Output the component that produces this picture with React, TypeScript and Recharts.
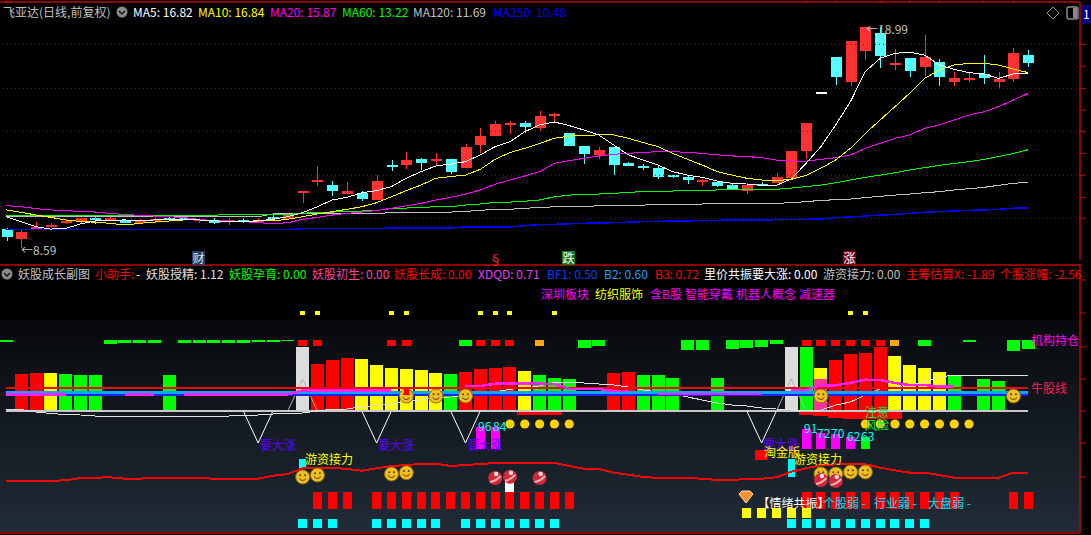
import { Bar, ComposedChart, Line, ReferenceLine, XAxis, YAxis } from 'recharts'

// upper panel: daily candles and moving averages
const open = [9.47, 9.01, 9.48, 9.58, 9.77, 9.86, 10.0, 9.91, 9.89, 9.77, 9.87, 9.99, 10.02, 9.91, 9.86, 9.86, 9.91, 9.81, 10.06, 9.97, 11.19, 11.69, 11.55, 11.15, 11.18, 10.86, 12.49, 12.49, 12.78, 12.68, 12.78, 12.37, 13.45, 13.88, 14.39, 14.47, 14.25, 14.82, 13.98, 13.39, 12.95, 13.34, 12.59, 12.45, 12.35, 12.02, 11.93, 11.77, 11.71, 11.55, 11.29, 11.6, 11.66, 11.9, 13.17, 15.91, 17.58, 16.42, 17.88, 18.71, 17.26, 17.53, 17.11, 17.34, 16.42, 16.56, 16.78, 16.42, 16.56, 17.67]
const close = [9.12, 9.34, 9.58, 9.67, 9.84, 9.99, 9.95, 9.99, 9.78, 9.87, 9.94, 9.92, 9.99, 9.94, 9.78, 9.91, 9.87, 9.91, 10.02, 10.22, 11.26, 11.79, 11.29, 11.27, 10.89, 11.74, 12.43, 12.73, 12.61, 12.76, 12.18, 13.34, 13.86, 14.42, 14.47, 14.3, 14.8, 14.89, 13.41, 13.03, 13.2, 12.51, 12.46, 12.37, 11.95, 11.95, 11.8, 11.8, 11.52, 11.32, 11.55, 11.54, 11.93, 13.15, 14.47, 15.91, 16.65, 18.33, 18.99, 17.64, 17.3, 16.93, 17.58, 16.65, 16.59, 16.59, 16.61, 16.54, 17.77, 17.3]
const high = [9.53, 9.44, 9.81, 9.77, 9.95, 10.02, 10.05, 10.11, 9.95, 9.94, 10.06, 10.06, 10.09, 9.99, 9.99, 9.99, 9.99, 9.99, 10.14, 10.25, 11.26, 12.45, 11.73, 11.69, 11.26, 12.01, 12.73, 13.11, 12.82, 13.04, 12.78, 13.48, 14.24, 14.55, 14.55, 14.55, 15.02, 14.94, 13.98, 13.39, 13.34, 13.34, 12.64, 12.54, 12.49, 12.02, 11.98, 11.82, 11.71, 11.6, 11.65, 11.71, 12.1, 13.15, 14.47, 15.92, 17.58, 18.33, 18.99, 18.99, 17.94, 17.53, 18.61, 17.47, 16.86, 16.81, 17.67, 16.87, 18.0, 17.91]
const low = [8.93, 8.59, 9.47, 9.55, 9.72, 9.78, 9.73, 9.87, 9.75, 9.72, 9.78, 9.87, 9.91, 9.78, 9.72, 9.67, 9.78, 9.78, 9.87, 9.91, 10.72, 11.52, 11.05, 11.11, 10.82, 10.85, 12.23, 12.31, 12.26, 12.46, 12.07, 12.35, 13.08, 13.86, 13.97, 13.98, 14.09, 14.52, 13.39, 12.56, 12.79, 12.02, 12.43, 12.26, 11.84, 11.9, 11.62, 11.52, 11.48, 11.32, 11.15, 11.54, 11.63, 11.79, 12.78, 15.9, 16.28, 16.21, 17.44, 17.06, 16.97, 16.64, 16.68, 16.23, 16.21, 16.4, 16.31, 16.09, 16.42, 17.12]

const ma5 = [10.06, 9.83, 9.59, 9.48, 9.51, 9.72, 9.86, 9.89, 9.91, 9.87, 9.91, 9.94, 9.92, 9.91, 9.87, 9.84, 9.84, 9.87, 9.94, 10.06, 10.25, 10.53, 10.85, 10.97, 11.19, 11.29, 11.48, 11.87, 12.18, 12.45, 12.54, 12.65, 12.97, 13.36, 13.59, 14.06, 14.38, 14.52, 14.35, 14.14, 13.91, 13.44, 12.97, 12.73, 12.49, 12.18, 12.02, 11.91, 11.74, 11.63, 11.6, 11.54, 11.54, 11.84, 12.57, 13.36, 14.38, 15.48, 16.89, 17.51, 17.75, 17.8, 17.67, 17.2, 17.0, 16.84, 16.78, 16.57, 16.78, 16.82]
const ma10 = [10.38, 10.27, 10.14, 10.03, 9.91, 9.84, 9.8, 9.75, 9.67, 9.75, 9.81, 9.86, 9.91, 9.91, 9.87, 9.84, 9.84, 9.86, 9.87, 9.94, 10.06, 10.19, 10.3, 10.41, 10.53, 10.72, 11.0, 11.29, 11.55, 11.87, 11.95, 12.02, 12.29, 12.76, 13.08, 13.28, 13.51, 13.75, 13.86, 13.86, 13.92, 13.91, 13.75, 13.55, 13.36, 13.04, 12.76, 12.49, 12.18, 12.02, 11.87, 11.79, 11.76, 11.82, 12.0, 12.34, 12.73, 13.28, 13.98, 14.61, 15.24, 15.87, 16.57, 16.97, 17.2, 17.28, 17.28, 17.2, 17.01, 16.84]
const ma20 = [10.58, 10.53, 10.44, 10.38, 10.35, 10.31, 10.28, 10.22, 10.16, 10.13, 10.09, 10.06, 10.02, 9.94, 9.87, 9.86, 9.83, 9.78, 9.73, 9.78, 9.94, 10.03, 10.14, 10.22, 10.28, 10.35, 10.46, 10.57, 10.69, 10.85, 10.97, 11.13, 11.32, 11.59, 11.79, 11.98, 12.18, 12.57, 12.7, 12.81, 12.92, 13.0, 13.04, 13.09, 13.12, 13.12, 13.09, 13.04, 12.97, 12.92, 12.89, 12.84, 12.73, 12.67, 12.68, 12.76, 12.84, 12.97, 13.28, 13.51, 13.75, 13.91, 14.22, 14.38, 14.61, 14.85, 15.0, 15.24, 15.55, 15.87]
const ma60 = [10.13, 10.13, 10.13, 10.13, 10.13, 10.13, 10.13, 10.13, 10.13, 10.13, 10.13, 10.13, 10.13, 10.13, 10.13, 10.17, 10.17, 10.17, 10.17, 10.17, 10.22, 10.27, 10.28, 10.31, 10.33, 10.36, 10.44, 10.47, 10.5, 10.53, 10.53, 10.61, 10.66, 10.74, 10.75, 10.79, 10.85, 11.0, 11.08, 11.11, 11.13, 11.16, 11.21, 11.24, 11.27, 11.27, 11.29, 11.3, 11.32, 11.32, 11.33, 11.35, 11.35, 11.41, 11.48, 11.55, 11.66, 11.79, 11.91, 12.02, 12.13, 12.26, 12.37, 12.48, 12.57, 12.65, 12.76, 12.89, 13.04, 13.22]
const ma120 = [10.05, 10.05, 10.05, 10.05, 10.05, 10.05, 10.06, 10.06, 10.06, 10.06, 10.06, 10.06, 10.06, 10.06, 10.06, 10.06, 10.06, 10.06, 10.19, 10.19, 10.19, 10.19, 10.19, 10.19, 10.19, 10.19, 10.27, 10.27, 10.28, 10.28, 10.28, 10.31, 10.36, 10.41, 10.41, 10.46, 10.49, 10.53, 10.53, 10.53, 10.58, 10.58, 10.6, 10.61, 10.63, 10.64, 10.64, 10.66, 10.67, 10.67, 10.69, 10.69, 10.69, 10.72, 10.77, 10.83, 10.86, 10.89, 10.96, 11.02, 11.08, 11.13, 11.19, 11.24, 11.32, 11.38, 11.44, 11.54, 11.63, 11.69]
const ma250 = [9.45, 9.45, 9.45, 9.45, 9.45, 9.45, 9.45, 9.45, 9.45, 9.45, 9.45, 9.45, 9.45, 9.45, 9.45, 9.45, 9.45, 9.45, 9.45, 9.45, 9.5, 9.5, 9.5, 9.5, 9.5, 9.5, 9.53, 9.53, 9.53, 9.53, 9.53, 9.58, 9.58, 9.58, 9.58, 9.64, 9.69, 9.7, 9.73, 9.75, 9.77, 9.78, 9.8, 9.83, 9.84, 9.86, 9.86, 9.89, 9.89, 9.91, 9.91, 9.91, 9.92, 9.94, 9.94, 9.95, 10.02, 10.05, 10.09, 10.14, 10.17, 10.22, 10.27, 10.3, 10.33, 10.36, 10.38, 10.41, 10.46, 10.48]
const gridPrices = [18.17, 16.1, 14.08, 12.01, 9.99]
const priceTicks = [18.17, 17.14, 16.1, 15.07, 14.08, 13.04, 12.01, 10.97, 9.99]
const topTicks = [1, 55, 57, 60, 62, 64, 67, 69]

// lower panel: indicator levels, [day, level]
const histRed = [[2, 159], [3, 160], [22, 169], [23, 173], [24, 175], [32, 161], [33, 164], [34, 165], [35, 166], [42, 160], [43, 161], [57, 173], [58, 179], [59, 180], [60, 186]]
const histYellow = [[4, 160], [25, 174], [26, 168], [27, 165], [28, 164], [29, 163], [30, 160], [36, 162], [56, 165], [61, 177], [62, 168], [63, 165], [64, 161]]
const histGreen = [[5, 159], [6, 158], [7, 158], [12, 158], [31, 159], [37, 158], [38, 155], [39, 154], [44, 158], [45, 158], [46, 155], [49, 155], [55, 186], [65, 158], [67, 154], [68, 152]]
const histGray = [[21, 186], [54, 186]]
const histPink = [[56, 154]]
const bandGreen = [[1, 191], [8, 189], [9, 190], [10, 190], [11, 190], [13, 190], [14, 190], [15, 190], [16, 190], [17, 190], [18, 191], [19, 191], [20, 192], [32, 187], [40, 185], [41, 187], [47, 183], [48, 183], [50, 184], [51, 185], [52, 186], [53, 189], [63, 187], [66, 191], [69, 182], [70, 184]]
const bandRedDays = [21, 22, 27, 28, 33, 34, 35, 55, 56, 57, 58, 59, 60]
const bandOrangeDays = [37, 61]
const signalDays = [21, 22, 27, 28, 33, 34, 35, 38, 58, 59]
const coinDays = [35, 36, 37, 38, 39, 59, 60, 61, 62, 63, 64, 65, 66]
const underRed = [[36, 118], [37, 118], [38, 118], [55, 118.3], [56, 117], [57, 115], [58, 114.3], [59, 114.3], [60, 114.3], [61, 114.3]]
const fundBars = [[33, 105.7], [34, 105.7], [55, 104], [56, 100], [57, 99], [58, 96]]
const fundGreen = [[59, 96]]
const relayCyan = [[21, 64, 74], [54, 56, 74]]
const goldBox = [[52, 73, 83]]
const whiteBar = [[35, 41, 57]]
const arrowMark = [[28, 138, 145]]
const redRowDays = [22, 23, 24, 26, 27, 28, 29, 30, 31, 32, 33, 34, 35, 36, 37, 38, 39, 55, 56, 57, 58, 59, 60, 61, 62, 63, 64, 65, 69, 70]
const cyanRowDays = [21, 22, 23, 26, 27, 28, 29, 30, 32, 33, 34, 35, 36, 37, 38, 54, 55, 56, 57, 58, 59, 60, 61, 62, 63]
const yellowRowDays = [51, 52, 53, 54, 55]
const smileDays = [[28, 137], [30, 137], [32, 137], [56, 137], [69, 137], [21, 56], [22, 58], [27, 59], [28, 60.3], [56, 59], [57, 59], [58, 61], [59, 61]]
const sphereDays = [[34, 55], [35, 56.3], [37, 55], [56, 53], [57, 52]]
const relayLine = [52.3, 52.3, 52.3, 52.3, 52.6, 55, 55.3, 55.7, 54.3, 54.3, 55.3, 55.3, 55.3, 55, 54.3, 54.3, 54.3, 54.3, 57.3, 59, 64.7, 65.3, 65.3, 64, 62.3, 64.7, 67, 68, 69, 69.3, 67, 68, 69, 70, 69.7, 69.7, 70.3, 70, 67, 64.3, 64, 60.3, 58.3, 56, 55, 55, 55, 54.3, 53, 53, 54, 54.3, 55.7, 61.3, 64.7, 67.7, 68.7, 69.3, 68.7, 65.3, 62.7, 60.3, 60.3, 58, 55.3, 55.3, 55.3, 55.3, 60.3, 60.3]
const whiteLine = [123.5, 123.5, 121, 119.5, 118.5, 118, 117, 117, 117, 117, 117, 117, 117, 117, 117, 117, 117.5, 118, 119, 119.5, 120, 122, 124, 124, 126.3, 127.5, 128.7, 132, 133, 135, 136, 138, 139.3, 141, 143.7, 145, 147, 151, 151, 150, 149, 148, 146, 143, 141, 139, 136, 133, 130, 128, 127, 125, 124, 123, 123, 123, 128, 131, 138, 144, 146, 148, 151, 156, 158, 158, 158, 158, 157.5, 157]
const pinkLine = [138.7, 138.7, 138.7, 138.7, 138.7, null, null, null, 138.7, 138.7, 138.7, null, 138.7, 138.7, 138.7, 138.7, 138.7, 138.7, 138.7, 138.7, 142.7, 142.7, 142.7, 142.7, 142.5, 142.5, 142.5, null, null, null, null, 147, 147, 149.3, 149.3, 149.3, 149.3, 149, 144, 144, 144, 142, 142, null, 139, 139, 139, 139, 139, 139, 139, 139, null, 143, 143, 147.7, 147.7, 150, 153.3, 153, 150, 148, 148, 146.3, 146.3, null, null, null, null, null]
const vDips = [[17, 122], [18, 90], [19, 122], [25, 122], [26, 90], [27, 122], [31, 122], [32, 90], [33, 122], [51, 122], [52, 90], [53, 122]]
const peaks = [[20, 122], [21, 154], [22, 122], [53, 122], [54, 154], [55, 122]]
const pinkDip = [[56, 140], [57, 119]]
const lowerTicks = [253, 220, 186, 154, 122, 90, 56]

const FONT = '"Noto Sans CJK SC", "Liberation Sans", sans-serif'
const CHART_W = 1092
const RED_LINE = '#c00000'

const candleRows: any[] = Array.from({ length: 73 }, (_, n) => ({
  i: n + 1,
  range: n < 70 ? [low[n], high[n]] : null,
  open: open[n],
  close: close[n],
  high: high[n],
  low: low[n],
  ma5: ma5[n],
  ma10: ma10[n],
  ma20: ma20[n],
  ma60: ma60[n],
  ma120: ma120[n],
  ma250: ma250[n],
}))

const lowerRows: any[] = Array.from({ length: 73 }, (_, n) => ({
  i: n + 1,
  red: n < 70 ? 145 : null,
  cyan: n < 70 ? 141 : null,
  navy: n < 70 ? 138 : null,
  base: n < 70 ? 122 : null,
  relay: relayLine[n],
  white: whiteLine[n],
  pink: pinkLine[n] ?? null,
}))
const setRange = (key: string, day: number, lo: number, hi: number) => {
  lowerRows[day - 1][key] = [lo, hi]
}
const setLevel = (key: string, day: number, level: number) => {
  lowerRows[day - 1][key] = level
}
histRed.forEach(([d, v]) => setRange('histRed', d, 122, v))
histYellow.forEach(([d, v]) => setRange('histYellow', d, 122, v))
histGreen.forEach(([d, v]) => setRange('histGreen', d, 122, v))
histGray.forEach(([d, v]) => setRange('histGray', d, 122, v))
histPink.forEach(([d, v]) => setRange('histPink', d, 122, v))
bandGreen.forEach(([d, v]) => setRange('bandGreen', d, v, 193))
bandRedDays.forEach((d) => setRange('bandRed', d, 187, 193))
bandOrangeDays.forEach((d) => setRange('bandOrange', d, 187, 193))
signalDays.forEach((d) => setRange('signal', d, 218, 222))
coinDays.forEach((d) => setRange('coin', d, 108, 110))
underRed.forEach(([d, v]) => setRange('underRed', d, v, 121))
fundBars.forEach(([d, v]) => setRange('fund', d, 84, v))
fundGreen.forEach(([d, v]) => setRange('fundGreen', d, 84, v))
relayCyan.forEach(([d, a, b]) => setRange('relayCyan', d, a, b))
goldBox.forEach(([d, a, b]) => setRange('goldBox', d, a, b))
whiteBar.forEach(([d, a, b]) => setRange('whiteBar', d, a, b))
arrowMark.forEach(([d, a, b]) => setRange('arrowMark', d, a, b))
redRowDays.forEach((d) => setRange('redRow', d, 24, 41))
cyanRowDays.forEach((d) => setRange('cyanRow', d, 5, 14))
yellowRowDays.forEach((d) => setRange('yellowRow', d, 15, 25))
smileDays.forEach(([d, v]) => {
  const key = v > 100 ? 'smileHigh' : 'smileLow'
  setRange(key, d, v - 1, v + 1)
})
sphereDays.forEach(([d, v]) => setRange('sphere', d, v - 1, v + 1))
vDips.forEach(([d, v]) => setLevel('dip', d, v))
peaks.forEach(([d, v]) => setLevel('peak', d, v))
pinkDip.forEach(([d, v]) => setLevel('pinkDip', d, v))

function Candle(props: any) {
  const { x, y, width, height, payload } = props
  if (!payload || payload.range == null) return null
  const cx = Math.round(x + width / 2)
  const h = Math.max(height, 0)
  const span = payload.high - payload.low || 1
  const py = (p: number) => y + ((payload.high - p) / span) * h
  const up = payload.close > payload.open
  const flat = payload.close === payload.open
  const color = flat ? '#ffffff' : up ? '#ff3232' : '#54ffff'
  const top = py(Math.max(payload.open, payload.close))
  const bot = py(Math.min(payload.open, payload.close))
  return (
    <g shapeRendering="crispEdges">
      <rect x={cx} y={y} width={1} height={h} fill={color} />
      <rect x={cx - 5} y={top} width={11} height={Math.max(bot - top, 2)} fill={color} />
    </g>
  )
}

// every bar gets the same 1px slot from the chart, the shape draws its real width
const rectShape = (w: number, fill: string) => (props: any) => {
  const { x, y, width, height, payload, value } = props
  if (!payload || value == null || !(height > 0)) return null
  const cx = x + width / 2
  return <rect x={Math.round(cx - w / 2)} y={y} width={w} height={height} fill={fill} shapeRendering="crispEdges" />
}

function Coin(props: any) {
  const { x, y, width, height, value } = props
  if (value == null) return null
  return <circle cx={x + width / 2} cy={y + height / 2} r={4.6} fill="#ffd200" />
}

function Smile(props: any) {
  const { x, y, width, height, value } = props
  if (value == null) return null
  const cx = x + width / 2
  const cy = y + height / 2
  return (
    <g>
      <circle cx={cx} cy={cy} r={7} fill="#f0c020" stroke="#8a6a10" strokeWidth={1} />
      <circle cx={cx - 2.4} cy={cy - 1.8} r={1} fill="#5a3a00" />
      <circle cx={cx + 2.4} cy={cy - 1.8} r={1} fill="#5a3a00" />
      <path d={`M ${cx - 3.5} ${cy + 1.5} Q ${cx} ${cy + 5.5} ${cx + 3.5} ${cy + 1.5}`} stroke="#5a3a00" fill="none" strokeWidth={1} />
    </g>
  )
}

function Sphere(props: any) {
  const { x, y, width, height, value } = props
  if (value == null) return null
  const cx = x + width / 2
  const cy = y + height / 2
  return (
    <g>
      <circle cx={cx} cy={cy} r={7} fill="#d0283a" />
      <path d={`M ${cx - 5} ${cy + 4} Q ${cx + 1} ${cy + 3} ${cx + 5.5} ${cy - 2}`} stroke="#f4b0b0" strokeWidth={2} fill="none" />
      <circle cx={cx + 1} cy={cy - 4} r={2.2} fill="#ffe0e0" />
    </g>
  )
}

function Txt({ x, y, color, size = 12, children }: any) {
  return (
    <span
      style={{
        position: 'absolute',
        left: x,
        top: y,
        transform: 'translateY(-50%)',
        color,
        fontSize: size,
        lineHeight: 1,
        whiteSpace: 'nowrap',
        fontFamily: FONT,
      }}
    >
      {children}
    </span>
  )
}

function Box({ x, y, bg, color, children }: any) {
  return (
    <span
      style={{
        position: 'absolute',
        left: x,
        top: y,
        width: 13,
        height: 14,
        background: bg,
        color,
        fontSize: 12,
        lineHeight: '14px',
        textAlign: 'center',
        fontFamily: FONT,
      }}
    >
      {children}
    </span>
  )
}

function Chevron({ x, y }: { x: number; y: number }) {
  return (
    <svg style={{ position: 'absolute', left: x - 6, top: y - 6 }} width={12} height={12}>
      <circle cx={6} cy={6} r={5.5} fill="#8a8a8a" />
      <path d="M 3 5 L 6 8 L 9 5" stroke="#111" strokeWidth={1.4} fill="none" />
    </svg>
  )
}

export default function App() {
  const lineProps = { dot: false, isAnimationActive: false, activeDot: false, shapeRendering: 'crispEdges' } as any
  const hist = { isAnimationActive: false } as any
  return (
    <div style={{ position: 'absolute', left: 0, top: 0, width: 1091, height: 535, background: '#000', overflow: 'hidden' }}>
      <div style={{ position: 'absolute', left: 0, top: 320, width: 1081, height: 212, background: 'linear-gradient(#07090c, #202c37)' }} />

      <div style={{ position: 'absolute', left: -1, top: 0 }}>
        <ComposedChart width={CHART_W} height={260} data={candleRows} margin={{ top: 0, right: 0, bottom: 0, left: 0 }} barSize={1} barGap={-1}>
          <XAxis
            dataKey="i"
            type="category"
            scale="band"
            orientation="top"
            height={2}
            ticks={topTicks}
            interval={0}
            tickSize={2}
            tickFormatter={() => ''}
            axisLine={{ stroke: RED_LINE, strokeWidth: 1.5 }}
            tickLine={{ stroke: RED_LINE }}
          />
          <YAxis
            orientation="right"
            width={11}
            domain={[8.024, 20.166]}
            allowDataOverflow
            ticks={priceTicks}
            interval={0}
            tickSize={6}
            tickFormatter={() => ''}
            axisLine={{ stroke: RED_LINE, strokeWidth: 1.5 }}
            tickLine={{ stroke: RED_LINE }}
          />
          {gridPrices.map((p) => (
            <ReferenceLine key={p} y={p} stroke="#b00000" strokeDasharray="1 3" />
          ))}
          <Bar dataKey="range" shape={Candle} isAnimationActive={false} />
          <Line dataKey="ma250" stroke="#0000ff" strokeWidth={1.5} {...lineProps} />
          <Line dataKey="ma120" stroke="#c0c0c0" strokeWidth={1} {...lineProps} />
          <Line dataKey="ma60" stroke="#00ff00" strokeWidth={1} {...lineProps} />
          <Line dataKey="ma20" stroke="#ff00ff" strokeWidth={1} {...lineProps} />
          <Line dataKey="ma10" stroke="#ffff00" strokeWidth={1} {...lineProps} />
          <Line dataKey="ma5" stroke="#ffffff" strokeWidth={1} {...lineProps} />
        </ComposedChart>
      </div>

      <div style={{ position: 'absolute', left: -1, top: 264 }}>
        <ComposedChart width={CHART_W} height={270} data={lowerRows} margin={{ top: 0, right: 0, bottom: 0, left: 0 }} barSize={1} barGap={-1}>
          <XAxis
            dataKey="i"
            type="category"
            scale="band"
            height={1}
            tick={false}
            axisLine={{ stroke: RED_LINE, strokeWidth: 1.5 }}
            tickLine={false}
          />
          <YAxis
            orientation="right"
            width={11}
            domain={[0, 269]}
            allowDataOverflow
            ticks={lowerTicks}
            interval={0}
            tickSize={6}
            tickFormatter={() => ''}
            axisLine={{ stroke: RED_LINE, strokeWidth: 1.5 }}
            tickLine={{ stroke: RED_LINE }}
          />
          <ReferenceLine y={268} stroke={RED_LINE} strokeWidth={1.5} />
          <Bar dataKey="histRed" shape={rectShape(13, '#ff0000')} {...hist} />
          <Bar dataKey="histYellow" shape={rectShape(13, '#ffff00')} {...hist} />
          <Bar dataKey="histGreen" shape={rectShape(13, '#00ff00')} {...hist} />
          <Bar dataKey="histGray" shape={rectShape(13, '#dcdcdc')} {...hist} />
          <Bar dataKey="histPink" shape={rectShape(13, '#ff3399')} {...hist} />
          <Bar dataKey="bandGreen" shape={rectShape(13, '#00ff00')} {...hist} />
          <Bar dataKey="bandRed" shape={rectShape(9, '#ff0000')} {...hist} />
          <Bar dataKey="bandOrange" shape={rectShape(9, '#ffa800')} {...hist} />
          <Bar dataKey="signal" shape={rectShape(5, '#ffff00')} {...hist} />
          <Bar dataKey="underRed" shape={rectShape(15, '#ff0000')} {...hist} />
          <Bar dataKey="fund" shape={rectShape(9, '#ff00ff')} {...hist} />
          <Bar dataKey="fundGreen" shape={rectShape(9, '#00ff00')} {...hist} />
          <Bar dataKey="relayCyan" shape={rectShape(7, '#00ffff')} {...hist} />
          <Bar dataKey="goldBox" shape={rectShape(13, '#ff0000')} {...hist} />
          <Bar dataKey="redRow" shape={rectShape(9, '#ff0000')} {...hist} />
          <Bar dataKey="whiteBar" shape={rectShape(9, '#ffffff')} {...hist} />
          <Bar dataKey="cyanRow" shape={rectShape(9, '#00ffff')} {...hist} />
          <Bar dataKey="yellowRow" shape={rectShape(9, '#ffff00')} {...hist} />
          <Bar dataKey="coin" shape={Coin} {...hist} />
          <Line dataKey="dip" stroke="#ffffff" strokeWidth={1} {...lineProps} shapeRendering="auto" />
          <Line dataKey="peak" stroke="#b0b0b0" strokeWidth={1} {...lineProps} shapeRendering="auto" />
          <Line dataKey="pinkDip" stroke="#ff3399" strokeWidth={1} {...lineProps} shapeRendering="auto" />
          <Line dataKey="base" stroke="#c8c8c8" strokeWidth={1.5} {...lineProps} />
          <Line dataKey="white" stroke="#e0e0e0" strokeWidth={1} {...lineProps} />
          <Line dataKey="red" stroke="#ff0000" strokeWidth={2.5} {...lineProps} />
          <Line dataKey="cyan" stroke="#00a8ff" strokeWidth={3} {...lineProps} />
          <Line dataKey="navy" stroke="#2020ff" strokeWidth={1.5} {...lineProps} />
          <Line dataKey="pink" stroke="#ff20ff" strokeWidth={2.5} {...lineProps} />
          <Line dataKey="relay" stroke="#ff0000" strokeWidth={2} {...lineProps} />
          <Bar dataKey="smileHigh" shape={Smile} zIndex={700} {...hist} />
          <Bar dataKey="smileLow" shape={Smile} zIndex={700} {...hist} />
          <Bar dataKey="sphere" shape={Sphere} zIndex={710} {...hist} />
          <Bar dataKey="arrowMark" shape={rectShape(5, '#ff0000')} zIndex={720} {...hist} />
        </ComposedChart>
      </div>

      {/* upper panel header */}
      <Txt x={3} y={12} color="#c0c0c0" size={12}>飞亚达(日线,前复权)</Txt>
      <Chevron x={122} y={12} />
      <Txt x={133} y={12} color="#ffffff">MA5: 16.82</Txt>
      <Txt x={198} y={12} color="#ffff00">MA10: 16.84</Txt>
      <Txt x={270} y={12} color="#ff00ff">MA20: 15.87</Txt>
      <Txt x={342} y={12} color="#00ff00">MA60: 13.22</Txt>
      <Txt x={413} y={12} color="#c0c0c0">MA120: 11.69</Txt>
      <Txt x={493} y={12} color="#0000ff">MA250: 10.48</Txt>
      <Txt x={21} y={250} color="#c0c0c0">←8.59</Txt>
      <Txt x={866} y={29} color="#c0c0c0">←18.99</Txt>
      <svg style={{ position: 'absolute', left: 1045, top: 5 }} width={36} height={16}>
        <path d="M 8 2 L 14 8 L 8 14 L 2 8 Z" stroke="#8a8a8a" fill="none" />
        <rect x={22} y={2} width={11} height={12} rx={2} stroke="#8a8a8a" strokeWidth={1.5} fill="none" />
        <rect x={28} y={3} width={4} height={10} fill="#8a8a8a" />
      </svg>
      <div style={{ position: 'absolute', left: 1082, top: 5, width: 9, height: 19, background: '#000080' }} />
      <Txt x={1083} y={14} color="#ffffff">1</Txt>

      <Box x={192} y={251} bg="#14406e" color="#e0e0e0">财</Box>
      <Txt x={489} y={258} color="#ff2020" size={13}>§</Txt>
      <Box x={562} y={251} bg="#0a7a20" color="#ffffff">跌</Box>
      <Box x={843} y={251} bg="#800000" color="#ffffff">涨</Box>

      {/* lower panel header */}
      <Chevron x={7} y={274} />
      <Txt x={18} y={274} color="#c0c0c0">妖股成长副图</Txt>
      <Txt x={95} y={274} color="#ff0000">小助手:</Txt>
      <Txt x={136} y={274} color="#ffffff">-</Txt>
      <Txt x={146} y={274} color="#e0e0e0">妖股授精: 1.12</Txt>
      <Txt x={229} y={274} color="#00ff00">妖股孕育: 0.00</Txt>
      <Txt x={312} y={274} color="#ff40a0">妖股初生: 0.00</Txt>
      <Txt x={394} y={274} color="#ff0000">妖股长成: 0.00</Txt>
      <Txt x={478} y={274} color="#e040ff">XDQD: 0.71</Txt>
      <Txt x={547} y={274} color="#0040ff">BF1: 0.50</Txt>
      <Txt x={604} y={274} color="#20a0ff">B2: 0.60</Txt>
      <Txt x={655} y={274} color="#ff0000">B3: 0.72</Txt>
      <Txt x={704} y={274} color="#ffffff">里价共振要大涨: 0.00</Txt>
      <Txt x={823} y={274} color="#c0c0c0">游资接力: 0.00</Txt>
      <Txt x={906} y={274} color="#ff0000">主筹估算X: -1.89</Txt>
      <Txt x={1000} y={274} color="#ff0000">个股涨幅: -2.56</Txt>

      <Txt x={541} y={294} color="#ff00ff">深圳板块</Txt>
      <Txt x={595} y={294} color="#ffff00">纺织服饰</Txt>
      <Txt x={650} y={294} color="#ff00ff">含B股</Txt>
      <Txt x={685} y={294} color="#ff00ff">智能穿戴</Txt>
      <Txt x={736} y={294} color="#ff00ff">机器人概念</Txt>
      <Txt x={799} y={294} color="#ff00ff">减速器</Txt>

      <Txt x={1031} y={340} color="#ff00ff">机构持仓</Txt>
      <Txt x={1031} y={388} color="#ff2050">牛股线</Txt>

      <Txt x={260} y={445} color="#6000ff">要大涨</Txt>
      <Txt x={378} y={445} color="#6000ff">要大涨</Txt>
      <Txt x={467} y={445} color="#6000ff">要大涨</Txt>
      <Txt x={763} y={444} color="#6000ff">要大涨</Txt>
      <Txt x={764} y={452} color="#ffff00">淘金版</Txt>
      <Txt x={305} y={459} color="#ffff00">游资接力</Txt>
      <Txt x={794} y={459} color="#ffff00">游资接力</Txt>
      <Txt x={865} y={412} color="#00e040">注意</Txt>
      <Txt x={865} y={425} color="#00e040">风险</Txt>

      <Txt x={478} y={426} color="#00ffff">96</Txt>
      <Txt x={493} y={426} color="#00ffff">84</Txt>
      <Txt x={804} y={428} color="#00ffff">91</Txt>
      <Txt x={817} y={433} color="#00ffff">72</Txt>
      <Txt x={831} y={433} color="#00ffff">70</Txt>
      <Txt x={847} y={436} color="#00ffff">62</Txt>
      <Txt x={861} y={436} color="#00ffff">63</Txt>

      <svg style={{ position: 'absolute', left: 738, top: 490 }} width={16} height={14}>
        <path d="M 1 4 L 4 1 L 12 1 L 15 4 L 8 13 Z" fill="#f09030" stroke="#ffe0b0" />
      </svg>
      <Txt x={757.5} y={503} color="#ffffff">【情绪共振】</Txt>
      <Txt x={823} y={503} color="#00e0ff">个股弱 -</Txt>
      <Txt x={874} y={503} color="#00e0ff">行业弱 -</Txt>
      <Txt x={928} y={503} color="#00e0ff">大盘弱 -</Txt>
    </div>
  )
}
